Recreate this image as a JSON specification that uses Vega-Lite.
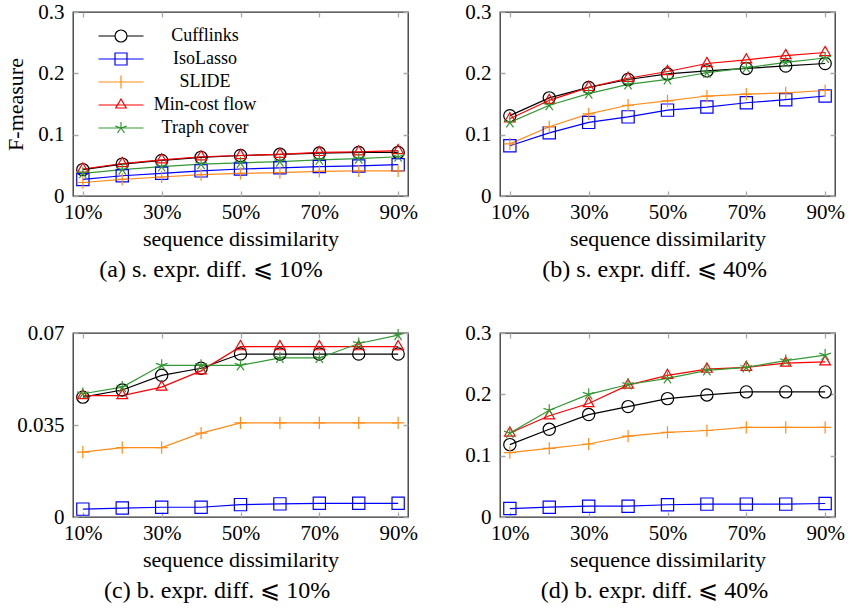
{
  "$schema": "https://vega.github.io/schema/vega-lite/v6.json",
  "background": "white",
  "padding": {"left": 4, "top": 0, "right": 5, "bottom": 5},
  "config": {
    "view": {"stroke": "#333333", "strokeWidth": 1.3},
    "font": "Liberation Serif, serif",
    "axis": {"labelFont": "Liberation Serif, serif", "titleFont": "Liberation Serif, serif", "labelFontSize": 21, "titleFontSize": 22, "titleFontWeight": "normal", "labelColor": "#000", "titleColor": "#000", "domain": false, "ticks": false, "grid": true, "gridColor": "#aaaaaa", "gridWidth": 1.3, "gridOpacity": 1},
    "axisX": {"gridDash": [5, 174], "labelPadding": 5, "titlePadding": 6},
    "axisY": {"gridDash": [5, 325], "labelPadding": 9, "titlePadding": 10},
    "legend": {"labelFont": "Liberation Serif, serif"},
    "title": {"font": "Liberation Serif, serif", "fontSize": 24, "fontWeight": "normal", "color": "#000", "orient": "bottom", "frame": "bounds", "anchor": "middle", "offset": 9}
  },
  "datasets": {
    "d": [
      {"p":"a","s":"Cufflinks","x":10,"y":0.043},{"p":"a","s":"Cufflinks","x":20,"y":0.052},{"p":"a","s":"Cufflinks","x":30,"y":0.058},{"p":"a","s":"Cufflinks","x":40,"y":0.063},{"p":"a","s":"Cufflinks","x":50,"y":0.066},{"p":"a","s":"Cufflinks","x":60,"y":0.068},{"p":"a","s":"Cufflinks","x":70,"y":0.070},{"p":"a","s":"Cufflinks","x":80,"y":0.071},{"p":"a","s":"Cufflinks","x":90,"y":0.071},
      {"p":"a","s":"IsoLasso","x":10,"y":0.027},{"p":"a","s":"IsoLasso","x":20,"y":0.033},{"p":"a","s":"IsoLasso","x":30,"y":0.037},{"p":"a","s":"IsoLasso","x":40,"y":0.041},{"p":"a","s":"IsoLasso","x":50,"y":0.044},{"p":"a","s":"IsoLasso","x":60,"y":0.046},{"p":"a","s":"IsoLasso","x":70,"y":0.048},{"p":"a","s":"IsoLasso","x":80,"y":0.049},{"p":"a","s":"IsoLasso","x":90,"y":0.051},
      {"p":"a","s":"SLIDE","x":10,"y":0.022},{"p":"a","s":"SLIDE","x":20,"y":0.027},{"p":"a","s":"SLIDE","x":30,"y":0.031},{"p":"a","s":"SLIDE","x":40,"y":0.035},{"p":"a","s":"SLIDE","x":50,"y":0.037},{"p":"a","s":"SLIDE","x":60,"y":0.038},{"p":"a","s":"SLIDE","x":70,"y":0.040},{"p":"a","s":"SLIDE","x":80,"y":0.041},{"p":"a","s":"SLIDE","x":90,"y":0.041},
      {"p":"a","s":"Min-cost flow","x":10,"y":0.044},{"p":"a","s":"Min-cost flow","x":20,"y":0.053},{"p":"a","s":"Min-cost flow","x":30,"y":0.059},{"p":"a","s":"Min-cost flow","x":40,"y":0.064},{"p":"a","s":"Min-cost flow","x":50,"y":0.066},{"p":"a","s":"Min-cost flow","x":60,"y":0.068},{"p":"a","s":"Min-cost flow","x":70,"y":0.071},{"p":"a","s":"Min-cost flow","x":80,"y":0.072},{"p":"a","s":"Min-cost flow","x":90,"y":0.074},
      {"p":"a","s":"Traph cover","x":10,"y":0.037},{"p":"a","s":"Traph cover","x":20,"y":0.043},{"p":"a","s":"Traph cover","x":30,"y":0.048},{"p":"a","s":"Traph cover","x":40,"y":0.052},{"p":"a","s":"Traph cover","x":50,"y":0.054},{"p":"a","s":"Traph cover","x":60,"y":0.056},{"p":"a","s":"Traph cover","x":70,"y":0.059},{"p":"a","s":"Traph cover","x":80,"y":0.061},{"p":"a","s":"Traph cover","x":90,"y":0.064},

      {"p":"b","s":"Cufflinks","x":10,"y":0.131},{"p":"b","s":"Cufflinks","x":20,"y":0.160},{"p":"b","s":"Cufflinks","x":30,"y":0.177},{"p":"b","s":"Cufflinks","x":40,"y":0.190},{"p":"b","s":"Cufflinks","x":50,"y":0.199},{"p":"b","s":"Cufflinks","x":60,"y":0.204},{"p":"b","s":"Cufflinks","x":70,"y":0.208},{"p":"b","s":"Cufflinks","x":80,"y":0.212},{"p":"b","s":"Cufflinks","x":90,"y":0.216},
      {"p":"b","s":"IsoLasso","x":10,"y":0.082},{"p":"b","s":"IsoLasso","x":20,"y":0.103},{"p":"b","s":"IsoLasso","x":30,"y":0.120},{"p":"b","s":"IsoLasso","x":40,"y":0.129},{"p":"b","s":"IsoLasso","x":50,"y":0.140},{"p":"b","s":"IsoLasso","x":60,"y":0.145},{"p":"b","s":"IsoLasso","x":70,"y":0.152},{"p":"b","s":"IsoLasso","x":80,"y":0.157},{"p":"b","s":"IsoLasso","x":90,"y":0.163},
      {"p":"b","s":"SLIDE","x":10,"y":0.085},{"p":"b","s":"SLIDE","x":20,"y":0.113},{"p":"b","s":"SLIDE","x":30,"y":0.134},{"p":"b","s":"SLIDE","x":40,"y":0.148},{"p":"b","s":"SLIDE","x":50,"y":0.155},{"p":"b","s":"SLIDE","x":60,"y":0.163},{"p":"b","s":"SLIDE","x":70,"y":0.166},{"p":"b","s":"SLIDE","x":80,"y":0.168},{"p":"b","s":"SLIDE","x":90,"y":0.172},
      {"p":"b","s":"Min-cost flow","x":10,"y":0.126},{"p":"b","s":"Min-cost flow","x":20,"y":0.156},{"p":"b","s":"Min-cost flow","x":30,"y":0.177},{"p":"b","s":"Min-cost flow","x":40,"y":0.192},{"p":"b","s":"Min-cost flow","x":50,"y":0.203},{"p":"b","s":"Min-cost flow","x":60,"y":0.216},{"p":"b","s":"Min-cost flow","x":70,"y":0.222},{"p":"b","s":"Min-cost flow","x":80,"y":0.229},{"p":"b","s":"Min-cost flow","x":90,"y":0.234},
      {"p":"b","s":"Traph cover","x":10,"y":0.120},{"p":"b","s":"Traph cover","x":20,"y":0.148},{"p":"b","s":"Traph cover","x":30,"y":0.167},{"p":"b","s":"Traph cover","x":40,"y":0.182},{"p":"b","s":"Traph cover","x":50,"y":0.190},{"p":"b","s":"Traph cover","x":60,"y":0.201},{"p":"b","s":"Traph cover","x":70,"y":0.209},{"p":"b","s":"Traph cover","x":80,"y":0.218},{"p":"b","s":"Traph cover","x":90,"y":0.225},

      {"p":"c","s":"Cufflinks","x":10,"y":0.0456},{"p":"c","s":"Cufflinks","x":20,"y":0.0483},{"p":"c","s":"Cufflinks","x":30,"y":0.0539},{"p":"c","s":"Cufflinks","x":40,"y":0.0566},{"p":"c","s":"Cufflinks","x":50,"y":0.062},{"p":"c","s":"Cufflinks","x":60,"y":0.062},{"p":"c","s":"Cufflinks","x":70,"y":0.062},{"p":"c","s":"Cufflinks","x":80,"y":0.062},{"p":"c","s":"Cufflinks","x":90,"y":0.062},
      {"p":"c","s":"IsoLasso","x":10,"y":0.003},{"p":"c","s":"IsoLasso","x":20,"y":0.0034},{"p":"c","s":"IsoLasso","x":30,"y":0.0037},{"p":"c","s":"IsoLasso","x":40,"y":0.0037},{"p":"c","s":"IsoLasso","x":50,"y":0.0047},{"p":"c","s":"IsoLasso","x":60,"y":0.005},{"p":"c","s":"IsoLasso","x":70,"y":0.0052},{"p":"c","s":"IsoLasso","x":80,"y":0.0052},{"p":"c","s":"IsoLasso","x":90,"y":0.0052},
      {"p":"c","s":"SLIDE","x":10,"y":0.0247},{"p":"c","s":"SLIDE","x":20,"y":0.0264},{"p":"c","s":"SLIDE","x":30,"y":0.0264},{"p":"c","s":"SLIDE","x":40,"y":0.0319},{"p":"c","s":"SLIDE","x":50,"y":0.0358},{"p":"c","s":"SLIDE","x":60,"y":0.0358},{"p":"c","s":"SLIDE","x":70,"y":0.0358},{"p":"c","s":"SLIDE","x":80,"y":0.0358},{"p":"c","s":"SLIDE","x":90,"y":0.0358},
      {"p":"c","s":"Min-cost flow","x":10,"y":0.0462},{"p":"c","s":"Min-cost flow","x":20,"y":0.0462},{"p":"c","s":"Min-cost flow","x":30,"y":0.0494},{"p":"c","s":"Min-cost flow","x":40,"y":0.0556},{"p":"c","s":"Min-cost flow","x":50,"y":0.0648},{"p":"c","s":"Min-cost flow","x":60,"y":0.0648},{"p":"c","s":"Min-cost flow","x":70,"y":0.0648},{"p":"c","s":"Min-cost flow","x":80,"y":0.0648},{"p":"c","s":"Min-cost flow","x":90,"y":0.0648},
      {"p":"c","s":"Traph cover","x":10,"y":0.0469},{"p":"c","s":"Traph cover","x":20,"y":0.0494},{"p":"c","s":"Traph cover","x":30,"y":0.0577},{"p":"c","s":"Traph cover","x":40,"y":0.0577},{"p":"c","s":"Traph cover","x":50,"y":0.0577},{"p":"c","s":"Traph cover","x":60,"y":0.0605},{"p":"c","s":"Traph cover","x":70,"y":0.0605},{"p":"c","s":"Traph cover","x":80,"y":0.066},{"p":"c","s":"Traph cover","x":90,"y":0.0692},

      {"p":"d","s":"Cufflinks","x":10,"y":0.118},{"p":"d","s":"Cufflinks","x":20,"y":0.143},{"p":"d","s":"Cufflinks","x":30,"y":0.167},{"p":"d","s":"Cufflinks","x":40,"y":0.180},{"p":"d","s":"Cufflinks","x":50,"y":0.193},{"p":"d","s":"Cufflinks","x":60,"y":0.199},{"p":"d","s":"Cufflinks","x":70,"y":0.204},{"p":"d","s":"Cufflinks","x":80,"y":0.204},{"p":"d","s":"Cufflinks","x":90,"y":0.204},
      {"p":"d","s":"IsoLasso","x":10,"y":0.0137},{"p":"d","s":"IsoLasso","x":20,"y":0.016},{"p":"d","s":"IsoLasso","x":30,"y":0.0176},{"p":"d","s":"IsoLasso","x":40,"y":0.0176},{"p":"d","s":"IsoLasso","x":50,"y":0.020},{"p":"d","s":"IsoLasso","x":60,"y":0.021},{"p":"d","s":"IsoLasso","x":70,"y":0.021},{"p":"d","s":"IsoLasso","x":80,"y":0.021},{"p":"d","s":"IsoLasso","x":90,"y":0.022},
      {"p":"d","s":"SLIDE","x":10,"y":0.105},{"p":"d","s":"SLIDE","x":20,"y":0.112},{"p":"d","s":"SLIDE","x":30,"y":0.119},{"p":"d","s":"SLIDE","x":40,"y":0.132},{"p":"d","s":"SLIDE","x":50,"y":0.138},{"p":"d","s":"SLIDE","x":60,"y":0.141},{"p":"d","s":"SLIDE","x":70,"y":0.146},{"p":"d","s":"SLIDE","x":80,"y":0.146},{"p":"d","s":"SLIDE","x":90,"y":0.146},
      {"p":"d","s":"Min-cost flow","x":10,"y":0.137},{"p":"d","s":"Min-cost flow","x":20,"y":0.165},{"p":"d","s":"Min-cost flow","x":30,"y":0.185},{"p":"d","s":"Min-cost flow","x":40,"y":0.215},{"p":"d","s":"Min-cost flow","x":50,"y":0.231},{"p":"d","s":"Min-cost flow","x":60,"y":0.241},{"p":"d","s":"Min-cost flow","x":70,"y":0.244},{"p":"d","s":"Min-cost flow","x":80,"y":0.251},{"p":"d","s":"Min-cost flow","x":90,"y":0.253},
      {"p":"d","s":"Traph cover","x":10,"y":0.137},{"p":"d","s":"Traph cover","x":20,"y":0.174},{"p":"d","s":"Traph cover","x":30,"y":0.200},{"p":"d","s":"Traph cover","x":40,"y":0.216},{"p":"d","s":"Traph cover","x":50,"y":0.226},{"p":"d","s":"Traph cover","x":60,"y":0.239},{"p":"d","s":"Traph cover","x":70,"y":0.244},{"p":"d","s":"Traph cover","x":80,"y":0.255},{"p":"d","s":"Traph cover","x":90,"y":0.264}
    ]
  },
  "columns": 2,
  "bounds": "flush",
  "spacing": {"row": 137, "column": 92},
  "resolve": {"legend": {"color": "independent", "shape": "independent"}},
  "concat": [
    {
      "width": 335, "height": 184,
      "data": {"name": "d"},
      "transform": [{"filter": "datum.p === 'a'"}],
      "title": {"text": "(a) s. expr. diff. ⩽ 10%"},
      "encoding": {
        "x": {"field": "x", "type": "quantitative", "scale": {"domain": [7.5, 92.5], "nice": false, "zero": false}, "axis": {"values": [10, 30, 50, 70, 90], "labelExpr": "datum.value + '%'", "title": "sequence dissimilarity"}},
        "y": {"field": "y", "type": "quantitative", "scale": {"domain": [0, 0.3], "nice": false}, "axis": {"values": [0, 0.1, 0.2, 0.3], "labelExpr": "'' + datum.value", "title": "F-measure"}},
        "color": {"field": "s", "type": "nominal", "scale": {"domain": ["Cufflinks", "IsoLasso", "SLIDE", "Min-cost flow", "Traph cover"], "range": ["#000000", "#0000ff", "#ff8c1a", "#ff0000", "#339933"]},
          "legend": {"title": null, "orient": "none", "legendX": 37, "legendY": 13, "padding": 0, "fillColor": "white", "symbolSize": 400, "symbolStrokeWidth": 1.2, "symbolFillColor": "transparent", "labelFont": "Liberation Serif, serif", "labelFontSize": 18, "labelColor": "#000", "labelAlign": "center", "labelOffset": 73, "rowPadding": 3,
            "encoding": {"symbols": {"size": {"value": 400}, "shape": {"value": {"expr": "datum.value === 'Cufflinks' ? 'M-2.25,0L-0.6,0M0.6,0L2.25,0M-0.6,0A0.6,0.6 0 1,1 0.6,0A0.6,0.6 0 1,1 -0.6,0' : datum.value === 'IsoLasso' ? 'M-2.25,0L2.25,0M-0.6,-0.6L0.6,-0.6L0.6,0.6L-0.6,0.6Z' : datum.value === 'SLIDE' ? 'M-2.25,0L2.25,0M0,-0.65L0,0.65' : datum.value === 'Min-cost flow' ? 'M-2.25,0L2.25,0M0,-0.6L0.52,0.3L-0.52,0.3Z' : 'M-2.25,0L2.25,0M0,0L0,-0.6M0,0L0.571,-0.185M0,0L0.353,0.485M0,0L-0.353,0.485M0,0L-0.571,-0.185'"}}}}}}
      },
      "layer": [
        {"mark": {"type": "line", "strokeWidth": 1.2}},
        {"mark": {"type": "point", "filled": false, "size": 150, "strokeWidth": 1.2, "opacity": 1},
         "encoding": {"shape": {"field": "s", "type": "nominal", "scale": {"domain": ["Traph cover", "Min-cost flow", "SLIDE", "IsoLasso", "Cufflinks"], "range": ["M0,0L0,-1M0,0L0.951,-0.309M0,0L0.588,0.809M0,0L-0.588,0.809M0,0L-0.951,-0.309", "M0,-1L0.866,0.5L-0.866,0.5Z", "M-1,0L1,0M0,-1L0,1", "square", "circle"]}, "legend": null}}}
      ]
    },
    {
      "width": 335, "height": 184,
      "data": {"name": "d"},
      "transform": [{"filter": "datum.p === 'b'"}],
      "title": {"text": "(b) s. expr. diff. ⩽ 40%"},
      "encoding": {
        "x": {"field": "x", "type": "quantitative", "scale": {"domain": [7.5, 92.5], "nice": false, "zero": false}, "axis": {"values": [10, 30, 50, 70, 90], "labelExpr": "datum.value + '%'", "title": "sequence dissimilarity"}},
        "y": {"field": "y", "type": "quantitative", "scale": {"domain": [0, 0.3], "nice": false}, "axis": {"values": [0, 0.1, 0.2, 0.3], "labelExpr": "'' + datum.value", "title": null}},
        "color": {"field": "s", "type": "nominal", "scale": {"domain": ["Cufflinks", "IsoLasso", "SLIDE", "Min-cost flow", "Traph cover"], "range": ["#000000", "#0000ff", "#ff8c1a", "#ff0000", "#339933"]}, "legend": null}
      },
      "layer": [
        {"mark": {"type": "line", "strokeWidth": 1.2}},
        {"mark": {"type": "point", "filled": false, "size": 150, "strokeWidth": 1.2, "opacity": 1},
         "encoding": {"shape": {"field": "s", "type": "nominal", "scale": {"domain": ["Traph cover", "Min-cost flow", "SLIDE", "IsoLasso", "Cufflinks"], "range": ["M0,0L0,-1M0,0L0.951,-0.309M0,0L0.588,0.809M0,0L-0.588,0.809M0,0L-0.951,-0.309", "M0,-1L0.866,0.5L-0.866,0.5Z", "M-1,0L1,0M0,-1L0,1", "square", "circle"]}, "legend": null}}}
      ]
    },
    {
      "width": 335, "height": 184,
      "data": {"name": "d"},
      "transform": [{"filter": "datum.p === 'c'"}],
      "title": {"text": "(c) b. expr. diff. ⩽ 10%"},
      "encoding": {
        "x": {"field": "x", "type": "quantitative", "scale": {"domain": [7.5, 92.5], "nice": false, "zero": false}, "axis": {"values": [10, 30, 50, 70, 90], "labelExpr": "datum.value + '%'", "title": "sequence dissimilarity"}},
        "y": {"field": "y", "type": "quantitative", "scale": {"domain": [0, 0.07], "nice": false}, "axis": {"values": [0, 0.035, 0.07], "labelExpr": "'' + datum.value", "title": null}},
        "color": {"field": "s", "type": "nominal", "scale": {"domain": ["Cufflinks", "IsoLasso", "SLIDE", "Min-cost flow", "Traph cover"], "range": ["#000000", "#0000ff", "#ff8c1a", "#ff0000", "#339933"]}, "legend": null}
      },
      "layer": [
        {"mark": {"type": "line", "strokeWidth": 1.2}},
        {"mark": {"type": "point", "filled": false, "size": 150, "strokeWidth": 1.2, "opacity": 1},
         "encoding": {"shape": {"field": "s", "type": "nominal", "scale": {"domain": ["Traph cover", "Min-cost flow", "SLIDE", "IsoLasso", "Cufflinks"], "range": ["M0,0L0,-1M0,0L0.951,-0.309M0,0L0.588,0.809M0,0L-0.588,0.809M0,0L-0.951,-0.309", "M0,-1L0.866,0.5L-0.866,0.5Z", "M-1,0L1,0M0,-1L0,1", "square", "circle"]}, "legend": null}}}
      ]
    },
    {
      "width": 335, "height": 184,
      "data": {"name": "d"},
      "transform": [{"filter": "datum.p === 'd'"}],
      "title": {"text": "(d) b. expr. diff. ⩽ 40%"},
      "encoding": {
        "x": {"field": "x", "type": "quantitative", "scale": {"domain": [7.5, 92.5], "nice": false, "zero": false}, "axis": {"values": [10, 30, 50, 70, 90], "labelExpr": "datum.value + '%'", "title": "sequence dissimilarity"}},
        "y": {"field": "y", "type": "quantitative", "scale": {"domain": [0, 0.3], "nice": false}, "axis": {"values": [0, 0.1, 0.2, 0.3], "labelExpr": "'' + datum.value", "title": null}},
        "color": {"field": "s", "type": "nominal", "scale": {"domain": ["Cufflinks", "IsoLasso", "SLIDE", "Min-cost flow", "Traph cover"], "range": ["#000000", "#0000ff", "#ff8c1a", "#ff0000", "#339933"]}, "legend": null}
      },
      "layer": [
        {"mark": {"type": "line", "strokeWidth": 1.2}},
        {"mark": {"type": "point", "filled": false, "size": 150, "strokeWidth": 1.2, "opacity": 1},
         "encoding": {"shape": {"field": "s", "type": "nominal", "scale": {"domain": ["Traph cover", "Min-cost flow", "SLIDE", "IsoLasso", "Cufflinks"], "range": ["M0,0L0,-1M0,0L0.951,-0.309M0,0L0.588,0.809M0,0L-0.588,0.809M0,0L-0.951,-0.309", "M0,-1L0.866,0.5L-0.866,0.5Z", "M-1,0L1,0M0,-1L0,1", "square", "circle"]}, "legend": null}}}
      ]
    }
  ]
}
